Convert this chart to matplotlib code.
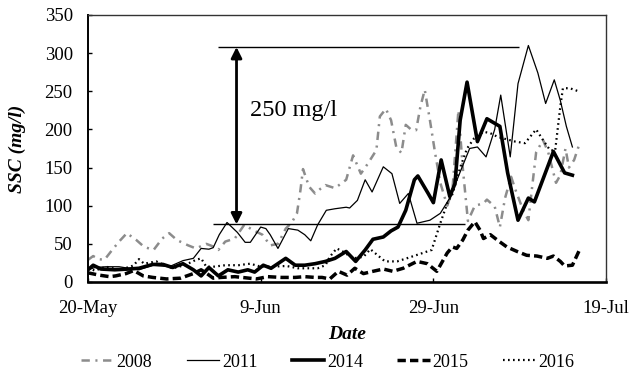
import matplotlib
matplotlib.use("Agg")
import matplotlib.pyplot as plt

plt.rcParams["font.family"] = ["Liberation Serif", "DejaVu Serif"]
plt.rcParams["lines.scale_dashes"] = False

# Day offsets from 20-May and suspended sediment concentration (mg/l)
day_2008 = [0.0, 0.6, 1.2, 1.9, 2.8, 3.6, 4.5, 5.6, 6.5, 7.6, 8.6, 9.4, 10.3, 11.6, 12.5,
            13.7, 14.4, 15.1, 15.9, 17.0, 18.1, 19.1, 20.2, 21.1, 22.0, 22.9, 23.6, 24.2,
            24.6, 24.9, 25.6, 26.3, 26.9, 27.5, 28.6, 29.9, 30.7, 31.6, 32.4, 33.4, 33.8,
            34.5, 35.1, 35.7, 36.3, 36.8, 37.4, 38.0, 38.5, 39.0, 39.6, 40.2, 40.8, 41.6,
            42.2, 42.9, 43.4, 44.0, 44.8, 45.8, 46.2, 47.1, 47.7, 48.3, 49.0, 49.5, 50.4,
            51.0, 51.4, 51.9, 52.7, 53.3, 54.2, 54.7, 55.3, 55.7, 56.3, 57.0]
ssc_2008 = [29, 34, 30, 29, 42, 53, 64, 55, 46, 42, 57, 64, 55, 48, 44,
            50, 47, 42, 53, 57, 75, 68, 62, 48, 50, 70, 78, 90,
            120, 148, 125, 116, 122, 127, 123, 134, 166, 142, 155, 173, 217,
            227, 212, 177, 169, 206, 200, 199, 230, 252, 212, 169, 130, 100,
            120, 225, 150, 80, 100, 103, 108, 99, 72, 110, 138, 121, 94,
            81, 121, 170, 186, 170, 130, 140, 175, 150, 160, 184]

day_2011 = [0.0, 0.8, 2.1, 3.6, 4.7, 5.9, 7.5, 9.4, 11.0, 12.2, 13.1, 14.0, 14.5, 15.2,
            16.1, 17.3, 18.2, 18.8, 20.0, 20.6, 21.1, 22.0, 23.2, 24.3, 25.1, 25.8, 26.6,
            27.6, 28.6, 29.9, 30.3, 31.2, 32.1, 32.9, 34.2, 35.2, 36.1, 37.1, 38.1, 39.6,
            40.8, 41.9, 43.2, 44.2, 45.1, 46.1, 47.1, 47.8, 48.9, 49.8, 51.0, 52.1, 53.0,
            54.0, 54.7, 55.4, 56.1]
ssc_2011 = [16, 19, 20, 20, 18, 16, 22, 20, 28, 31, 44, 43, 45, 62,
            78, 65, 52, 52, 72, 70, 62, 44, 70, 68, 62, 54, 75,
            94, 96, 98, 97, 107, 134, 118, 151, 142, 103, 116, 77, 81,
            90, 110, 147, 175, 177, 164, 200, 245, 164, 260, 310, 274, 234,
            265, 238, 204, 177]

day_2014 = [0.0, 0.6, 1.5, 3.1, 4.7, 5.9, 7.5, 8.7, 9.8, 11.0, 12.2, 13.1, 14.0, 15.1,
            16.2, 17.4, 18.5, 19.3, 20.3, 21.2, 22.9, 24.0, 25.1, 26.3, 27.5, 28.6, 29.9,
            31.0, 32.1, 33.0, 34.2, 35.1, 35.9, 36.8, 37.8, 38.2, 39.4, 40.0, 40.9, 41.9,
            42.5, 43.1, 43.9, 45.1, 46.2, 47.7, 48.6, 49.8, 51.0, 51.7, 53.2, 53.9, 55.2,
            56.1]
ssc_2014 = [16, 22, 17, 16, 17, 18, 23, 23, 19, 24, 16, 8, 19, 8,
            16, 13, 16, 13, 22, 18, 31, 22, 22, 24, 27, 31, 40,
            27, 42, 56, 59, 67, 72, 94, 134, 139, 116, 104, 160, 112,
            129, 212, 262, 184, 214, 204, 143, 81, 110, 105, 150, 171, 143,
            140]

day_2015 = [0.0, 1.3, 2.5, 3.2, 4.4, 5.3, 6.4, 7.5, 9.1, 10.7, 12.2, 13.1, 13.9, 14.5,
            15.4, 17.0, 19.5, 20.8, 22.4, 24.0, 25.1, 26.3, 27.1, 28.0, 29.0, 30.0, 30.9,
            31.9, 33.0, 34.2, 35.3, 36.5, 38.1, 39.3, 40.4, 41.6, 42.2, 42.7, 43.4, 44.0,
            44.8, 45.4, 45.8, 46.6, 47.4, 48.5, 49.7, 50.8, 52.0, 53.2, 53.9, 54.7, 55.2,
            56.1, 57.0]
ssc_2015 = [12, 9, 7, 8, 11, 15, 8, 6, 4, 5, 11, 16, 10, 5,
            6, 7, 4, 7, 6, 6, 7, 6, 6, 4, 14, 9, 18,
            11, 14, 17, 14, 18, 27, 24, 14, 38, 46, 44, 55, 68,
            79, 68, 57, 62, 55, 46, 40, 35, 34, 31, 34, 27, 21,
            22, 44]

day_2016 = [0.0, 0.8, 2.1, 3.6, 4.9, 5.3, 5.9, 6.5, 7.9, 8.9, 9.8, 11.2, 12.5, 13.1,
            13.7, 14.5, 15.9, 17.4, 18.8, 19.7, 21.1, 23.0, 24.3, 26.6, 27.5, 28.0, 28.8,
            29.5, 30.7, 31.9, 32.7, 34.4, 35.8, 36.9, 38.5, 39.8, 40.8, 41.6, 42.2, 42.7,
            43.1, 43.9, 44.7, 45.8, 46.6, 47.5, 49.5, 50.6, 51.9, 52.7, 53.5, 54.1, 54.7,
            55.0, 55.8, 56.8]
ssc_2016 = [18, 15, 20, 16, 20, 22, 30, 24, 27, 22, 18, 22, 29, 31,
            20, 20, 22, 22, 24, 21, 20, 21, 18, 18, 22, 33, 44,
            40, 31, 33, 43, 27, 27, 31, 37, 42, 77, 103, 115, 134,
            150, 175, 188, 197, 195, 190, 184, 182, 200, 186, 173, 172, 230,
            254, 254, 250]

tick_days = [0, 20, 40, 60]
tick_labels = ["20-May", "9-Jun", "29-Jun", "19-Jul"]
y_ticks = [0, 50, 100, 150, 200, 250, 300, 350]

fig = plt.figure(figsize=(6.4, 3.71), dpi=100)
ax = fig.add_axes([0.1375, 0.2399, 0.8095, 0.7197])

ax.plot(day_2008, ssc_2008, color="#8c8c8c", lw=1.8,
        linestyle=(0, (6, 4, 1.5, 4)), label="2008", zorder=2)
ax.plot(day_2011, ssc_2011, color="black", lw=0.9, label="2011", zorder=3)
ax.plot(day_2014, ssc_2014, color="black", lw=2.6, label="2014", zorder=4)
ax.plot(day_2015, ssc_2015, color="black", lw=2.5,
        linestyle=(0, (6, 3)), label="2015", zorder=4)
ax.plot(day_2016, ssc_2016, color="black", lw=1.6,
        linestyle=(0, (1.2, 2.4)), label="2016", zorder=4)

# Range bracket: upper and lower reference levels with double arrow
ax.hlines(308, 15.1, 49.9, color="black", lw=1.0, zorder=5)
ax.hlines(75.5, 14.5, 43.7, color="black", lw=1.0, zorder=5)
ax.annotate("", xy=(17.2, 308), xytext=(17.2, 75.5),
            arrowprops=dict(arrowstyle="<|-|>", lw=2.0, color="black",
                            mutation_scale=16, shrinkA=0, shrinkB=0), zorder=6)
ax.text(18.8, 225, "250 mg/l", fontsize=17.5, va="center", ha="left")

ax.set_xlim(0, 60)
ax.set_ylim(0, 350)
ax.set_xticks(tick_days)
ax.set_xticklabels(tick_labels)
ax.set_yticks(y_ticks)
ax.tick_params(axis="both", direction="in", length=3, width=1, labelsize=13.5)
ax.tick_params(axis="x", pad=13)
ax.tick_params(axis="y", pad=11)

for side in ["top", "right"]:
    ax.spines[side].set_linewidth(1.0)
    ax.spines[side].set_color("#333333")
ax.spines["left"].set_linewidth(1.4)
ax.spines["bottom"].set_linewidth(1.9)

ax.set_ylabel("SSC (mg/l)", fontsize=14, fontweight="bold", style="italic")
ax.yaxis.set_label_coords(-0.12, 0.5)
ax.set_xlabel("Date", fontsize=14, fontweight="bold", style="italic")
ax.xaxis.set_label_coords(0.5, -0.166)

fig.legend(loc="center", bbox_to_anchor=(0.512, 0.024), ncol=5, frameon=False,
           fontsize=13, handlelength=1.8, handletextpad=0.15, columnspacing=1.9,
           borderaxespad=0)

fig.savefig("out.png", dpi=100)
